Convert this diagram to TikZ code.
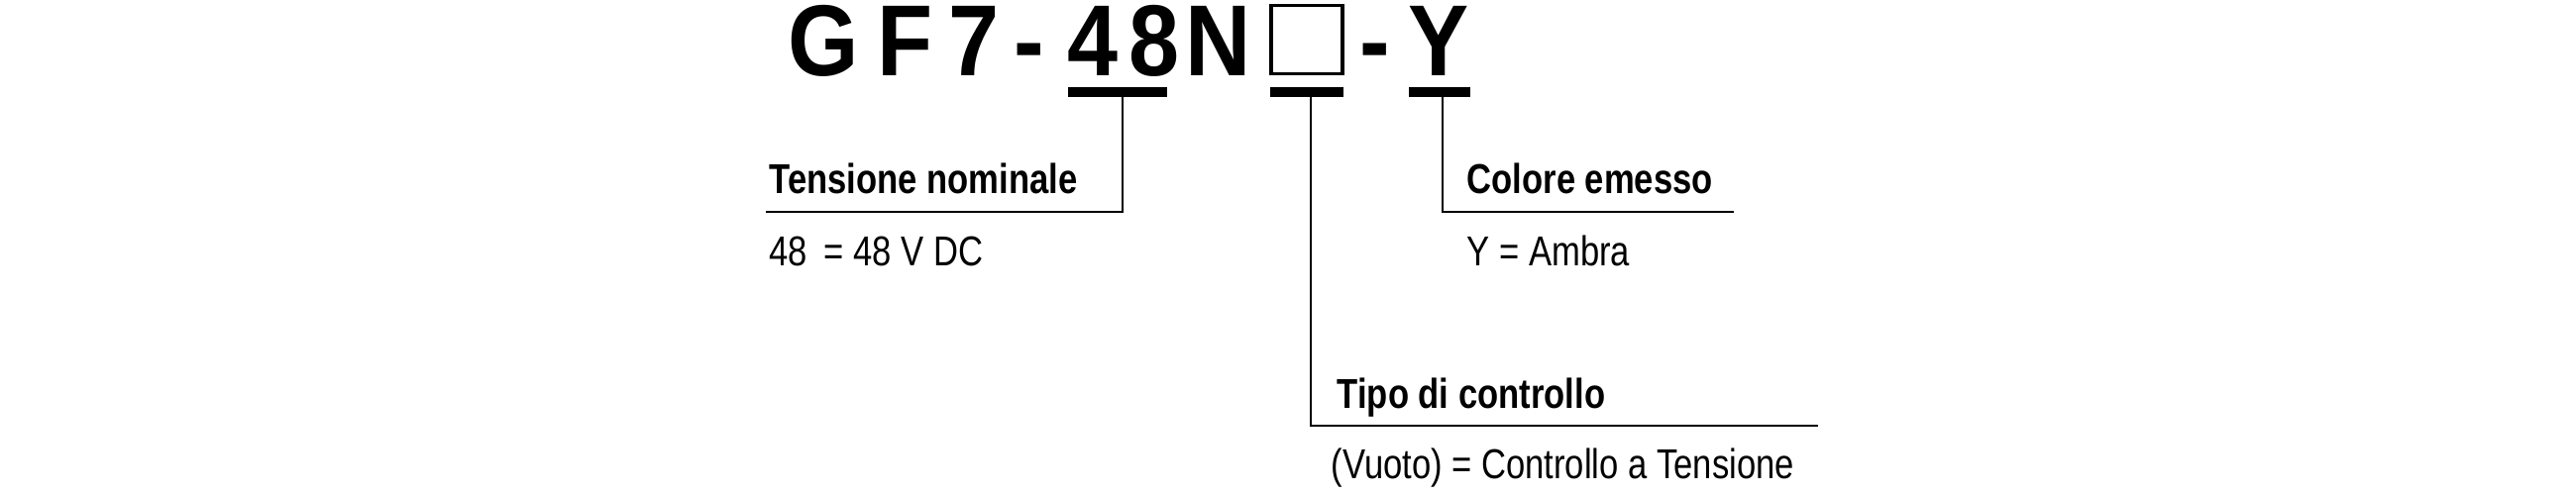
\documentclass[tikz,border=0pt]{standalone}
\usepackage{fontspec}
\setmainfont{Liberation Sans}[FakeStretch=0.82]
\newfontfamily\titlefont{Liberation Sans}[FakeStretch=0.9]
\begin{document}
\begin{tikzpicture}[
    x = 0.01cm, y = -0.01cm,
    code/.style = {font = \titlefont\fontsize{29}{29}\bfseries\selectfont, anchor = base, inner sep = 0pt},
    head/.style = {font = \fontsize{12}{14}\bfseries\selectfont, anchor = base west, inner sep = 0pt},
    value/.style = {font = \fontsize{12}{14}\selectfont, anchor = base west, inner sep = 0pt},
    bar/.style = {line width = 10\pgflinewidth/10*0 + 2.8pt},
    leader/.style = {line width = 0.5pt}
  ]
  \useasboundingbox (0,0) rectangle (2600,500);
  % the code
  \node[code] (cG)  at (831, 76)  {G};
  \node[code] (cF)  at (914, 76)  {F};
  \node[code] (c7)  at (983, 76)  {7};
  \node[code] (cd1) at (1039, 76) {-};
  \node[code] (c4)  at (1103, 76) {4};
  \node[code] (c8)  at (1165, 76) {8};
  \node[code] (cN)  at (1230, 76) {N};
  \node[draw, line width = 1pt, minimum width = 72\pgflinewidth/72*0 + 0.72cm,
        minimum height = 0.69cm, inner sep = 0pt] (cbox) at (1319, 40) {};
  \node[code] (cd2) at (1388, 76) {-};
  \node[code] (cY)  at (1452, 76) {Y};
  % underlines
  \coordinate (u1a) at (1078, 93); \coordinate (u1b) at (1178, 93);
  \coordinate (u2a) at (1282, 93); \coordinate (u2b) at (1356, 93);
  \coordinate (u3a) at (1422, 93); \coordinate (u3b) at (1484, 93);
  \draw[bar] (u1a) -- (u1b);
  \draw[bar] (u2a) -- (u2b);
  \draw[bar] (u3a) -- (u3b);
  % labels
  \node[head]  (tens) at (776, 195)  {Tensione nominale};
  \node[value] (tv)   at (776, 268)  {48\, = 48 V DC};
  \node[head]  (col)  at (1480, 195) {Colore emesso};
  \node[value] (cv)   at (1480, 268) {Y = Ambra};
  \node[head]  (tipo) at (1349, 412) {Tipo di controllo};
  \node[value] (tpv)  at (1343, 483) {(Vuoto) = Controllo a Tensione};
  % leaders
  \coordinate (l1) at (1133, 214); \coordinate (e1) at (773, 214);
  \coordinate (l2) at (1323, 430); \coordinate (e2) at (1835, 430);
  \coordinate (l3) at (1456, 214); \coordinate (e3) at (1750, 214);
  \draw[leader] (u1a -| l1) -- (l1) -- (e1);
  \draw[leader] (u2a -| l2) -- (l2) -- (e2);
  \draw[leader] (u3a -| l3) -- (l3) -- (e3);
\end{tikzpicture}
\end{document}
